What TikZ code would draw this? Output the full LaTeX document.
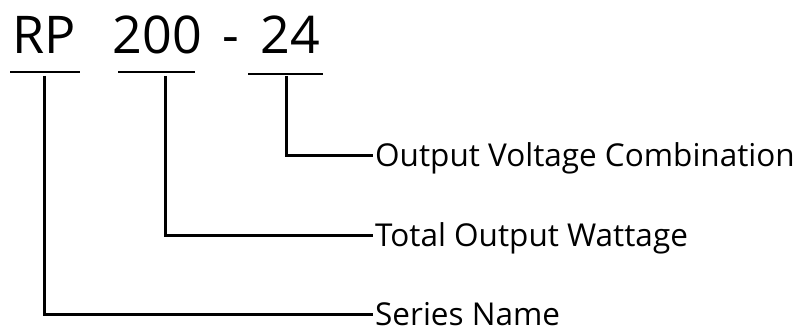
\documentclass[tikz,border=0pt]{standalone}
\usepackage{fontspec}
\setmainfont{Open Sans}
\usetikzlibrary{positioning, calc}

\begin{document}
\begin{tikzpicture}[x=1pt, y=-1pt, every node/.style={inner sep=0pt},
  code/.style={font=\fontsize{52}{52}\selectfont, anchor=base},
  field/.style={font=\fontsize{31.5}{31.5}\selectfont, text height=22pt, text depth=0pt, inner xsep=2pt, anchor=west},
  underline/.style={line width=2pt},
  lead/.style={line width=3pt}]
\useasboundingbox (0,0) rectangle (798,329);
% Model code
\node[code] (RP) at (44,54) {RP};
\node[code] (Watt) at (157.5,54) {200};
\node[code] (Dash) at (231,54) {-};
\node[code] (Volt) at (290.5,54) {24};
% Underlines
\draw[underline] (10,72) -- (80,72);
\draw[underline] (118,72) -- (195,72);
\draw[underline] (248,74) -- (323,74);
% Tap points
\coordinate (RPtap) at (44,76);
\coordinate (Watttap) at (165,76);
\coordinate (Volttap) at (286,76);
% Field names
\node[field] (VoltName) at (373,155) {Output Voltage Combination};
\node[field] (WattName) at (373,235) {Total Output Wattage};
\node[field] (SeriesName) at (373,314) {Series Name};
% Leads
\draw[lead] (Volttap) |- (VoltName.west);
\draw[lead] (Watttap) |- (WattName.west);
\draw[lead] (RPtap) |- (SeriesName.west);
\end{tikzpicture}
\end{document}
